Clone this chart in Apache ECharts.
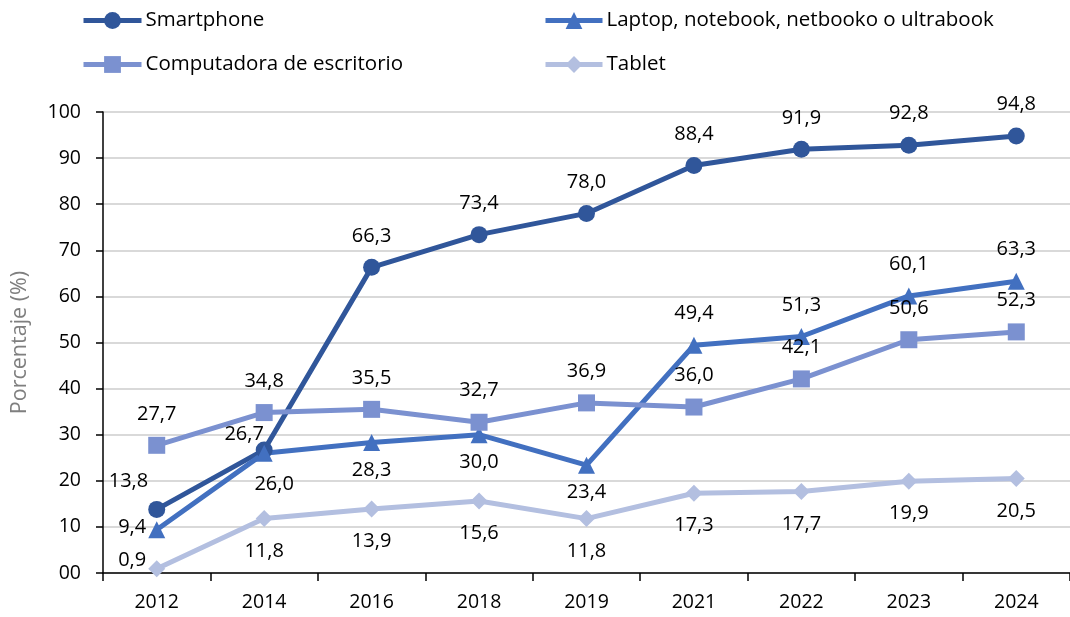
<!DOCTYPE html>
<html>
<head>
<meta charset="utf-8">
<script src="https://cdn.jsdelivr.net/npm/echarts@6/dist/echarts.min.js"></script>
<style>
  html, body { margin: 0; padding: 0; background: #fff; }
  #chart { width: 1070px; height: 617px; }
</style>
</head>
<body>
<div id="chart"></div>
<script>
// Years on the horizontal axis
const years = ['2012', '2014', '2016', '2018', '2019', '2021', '2022', '2023', '2024'];

// Share of people using each device (%)
const smartphone = [13.8, 26.7, 66.3, 73.4, 78.0, 88.4, 91.9, 92.8, 94.8];
const laptop = [9.4, 26.0, 28.3, 30.0, 23.4, 49.4, 51.3, 60.1, 63.3];
const desktop = [27.7, 34.8, 35.5, 32.7, 36.9, 36.0, 42.1, 50.6, 52.3];
const tablet = [0.9, 11.8, 13.9, 15.6, 11.8, 17.3, 17.7, 19.9, 20.5];

// Series names
const names = [
  'Smartphone',
  'Laptop, notebook, netbooko o ultrabook',
  'Computadora de escritorio',
  'Tablet'
];

// Y axis ticks
const yTicks = { min: 0, max: 100, step: 10 };

const FONT = '"Open Sans", "Noto Sans", sans-serif';
const fmt = v => v.toFixed(1).replace('.', ',');

// Turn a value list into points, with label placement tweaks per index
function points(values, tweaks) {
  return values.map((v, i) => tweaks[i] ? { value: v, label: tweaks[i] } : v);
}

function lineSeries(name, values, color, symbol, size, labelPos, distance, tweaks) {
  return {
    name: name,
    type: 'line',
    data: points(values, tweaks || {}),
    symbol: symbol,
    symbolSize: size,
    lineStyle: { color: color, width: 5 },
    itemStyle: { color: color },
    label: {
      show: true,
      position: labelPos,
      distance: distance,
      color: '#000',
      fontSize: 20,
      fontFamily: FONT,
      formatter: p => fmt(p.value)
    },
    emphasis: { disabled: true },
    z: 3
  };
}

const legendText = { fontSize: 20.5, fontFamily: FONT, color: '#000', padding: [0, 0, 0, -1] };

const chart = echarts.init(document.getElementById('chart'), null, { renderer: 'canvas' });

chart.setOption({
  animation: false,
  legend: [
    {
      left: 76, top: 5, orient: 'vertical', itemGap: 23,
      itemWidth: 58, itemHeight: 21,
      lineStyle: { width: 5 },
      textStyle: legendText,
      data: [names[0], names[2]]
    },
    {
      left: 538, top: 5, orient: 'vertical', itemGap: 23,
      itemWidth: 57, itemHeight: 21,
      lineStyle: { width: 5 },
      textStyle: legendText,
      data: [names[1], names[3]]
    }
  ],
  grid: { left: 103, top: 112, width: 972, bottom: 44, containLabel: false },
  xAxis: {
    type: 'category',
    data: years,
    boundaryGap: true,
    axisLine: { lineStyle: { color: '#000', width: 1.5 } },
    axisTick: { show: true, length: 8, lineStyle: { color: '#000', width: 1.5 } },
    axisLabel: { color: '#000', fontSize: 19.5, fontFamily: FONT, margin: 19 },
    splitLine: { show: false }
  },
  yAxis: {
    type: 'value',
    min: yTicks.min,
    max: yTicks.max,
    interval: yTicks.step,
    name: 'Porcentaje (%)',
    nameLocation: 'middle',
    nameGap: 72,
    nameRotate: 90,
    nameTextStyle: { color: '#7f7f7f', fontSize: 21.5, fontFamily: FONT },
    axisLine: { show: true, lineStyle: { color: '#000', width: 1.5 } },
    axisTick: { show: true, length: 7, lineStyle: { color: '#000', width: 1.5 } },
    axisLabel: {
      color: '#000', fontSize: 19.5, fontFamily: FONT, margin: 22,
      formatter: v => (v === 0 ? '00' : String(v))
    },
    splitLine: { show: true, lineStyle: { color: '#d9d9d9', width: 2 } }
  },
  series: [
    lineSeries(names[0], smartphone, '#30569a', 'circle', 17, 'top', 13, {
      0: { position: 'left', distance: 0, offset: [0, -28] },
      1: { offset: [-20, 16] }
    }),
    lineSeries(names[1], laptop, '#4270c0', 'triangle', 17, 'bottom', 9, {
      0: { position: 'left', distance: 2, offset: [0, -2] },
      1: { offset: [10, 4] },
      5: { position: 'top', distance: 13 },
      6: { position: 'top', distance: 13 },
      7: { position: 'top', distance: 13 },
      8: { position: 'top', distance: 13 }
    }),
    lineSeries(names[2], desktop, '#7b91d0', 'rect', 17, 'top', 13, {}),
    lineSeries(names[3], tablet, '#b3bfe0', 'diamond', 17, 'bottom', 14, {
      0: { position: 'left', distance: 2, offset: [0, -9] }
    })
  ]
});
</script>
</body>
</html>
